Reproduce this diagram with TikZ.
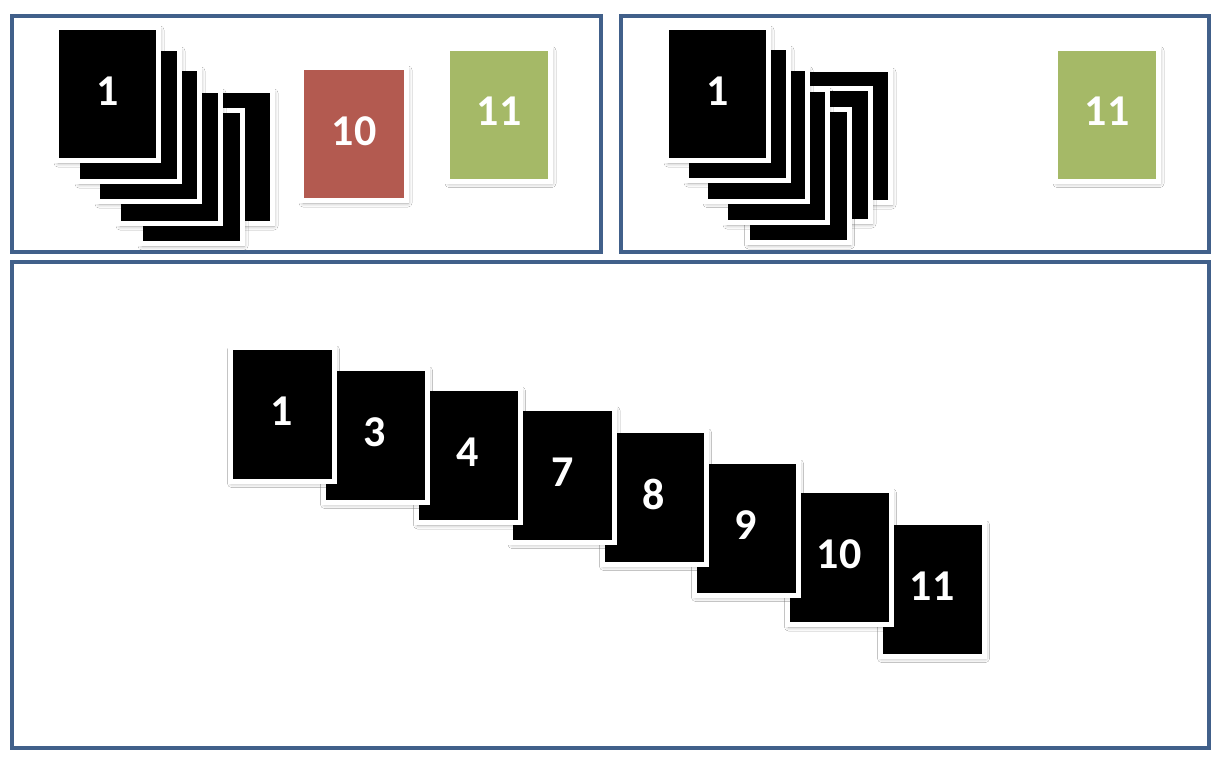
\documentclass[tikz,border=0pt]{standalone}
\usepackage{fontspec}
\newfontfamily\cardfont{Carlito}
\usetikzlibrary{shadows.blur}
\definecolor{framecol}{RGB}{65,96,138}
\definecolor{cardred}{RGB}{179,90,80}
\definecolor{cardgreen}{RGB}{165,185,103}
\tikzset{
  panel/.style={draw=framecol, line width=3.6pt},
  card/.style={draw=white, line width=5pt, fill=black, text=white,
    font=\cardfont\bfseries\fontsize{44}{48}\selectfont, text depth=6pt,
    inner sep=0pt, minimum width=102pt, minimum height=133pt,
    blur shadow={shadow xshift=1.5pt, shadow yshift=-2.5pt, shadow blur steps=6, shadow blur radius=4pt, shadow opacity=35}},
  bigcard/.style={card, minimum width=104pt, minimum height=134pt},
}
\begin{document}
\begin{tikzpicture}[x=1pt,y=-1pt]
\useasboundingbox (0,0) rectangle (1224,756);
\fill[white] (0,0) rectangle (1224,756);
% panels
\draw[panel] (12,16) rectangle (601,252);
\draw[panel] (621,16) rectangle (1209,252);
\draw[panel] (12,262) rectangle (1209,748);
% top-left stack
\node[card] (tlE) at (221.5,157) {};
\node[card] (tlF) at (191.5,177) {};
\node[card] (tlD) at (169.5,157) {};
\node[card] (tlC) at (148.5,135) {};
\node[card] (tlB) at (128.5,115) {};
\node[card] (tlA) at (107.5,94) {1};
\node[card, fill=cardred, minimum width=105pt] (tlR) at (354,134) {10};
\node[card, fill=cardgreen, minimum width=103pt] (tlG) at (499,114.5) {11};
% top-right stack
\node[card] (trG) at (839.5,136) {};
\node[card] (trH) at (819.5,155) {};
\node[card] (trE) at (798,176) {};
\node[card] (trD) at (776.5,156) {};
\node[card] (trC) at (756.5,134.5) {};
\node[card] (trB) at (737.5,114) {};
\node[card] (trA) at (717.5,94) {1};
\node[card, fill=cardgreen, minimum width=103pt] (trGr) at (1107,114.5) {11};
% bottom row
\node[bigcard] (b11) at (932,589) {11};
\node[bigcard] (b10) at (839,557.5) {10};
\node[bigcard] (b9) at (746,528) {9};
\node[bigcard] (b8) at (654,497) {8};
\node[bigcard] (b7) at (562.5,475) {7};
\node[bigcard] (b4) at (468,455.5) {4};
\node[bigcard] (b3) at (375,435) {3};
\node[bigcard] (b1) at (282,414) {1};
\end{tikzpicture}
\end{document}
